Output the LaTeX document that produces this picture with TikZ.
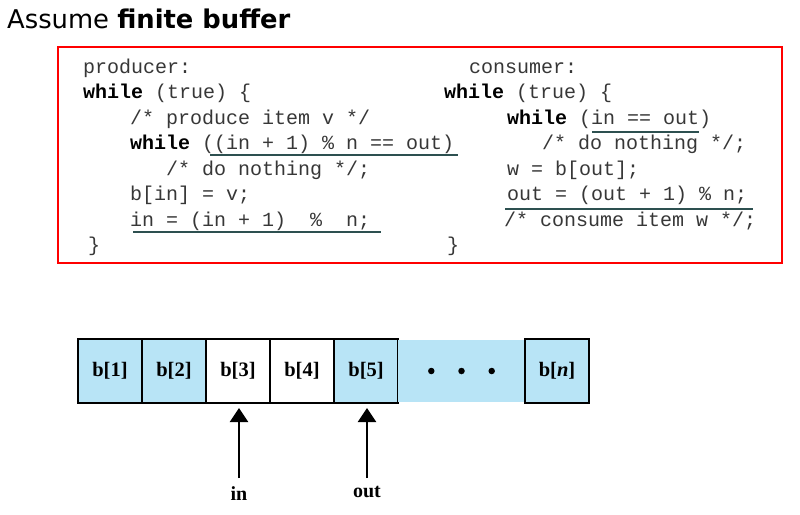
\documentclass[tikz,border=0pt]{standalone}
\usepackage{fontspec}
\setmainfont{Liberation Serif}
\setsansfont{DejaVu Sans}
\setmonofont{Liberation Mono}
\usetikzlibrary{positioning,arrows.meta}
\definecolor{bufblue}{RGB}{184,228,246}
\definecolor{ulinecol}{RGB}{45,80,80}
\definecolor{codegray}{RGB}{55,55,55}
\tikzset{
  code/.style={anchor=base west, inner sep=0pt, text=codegray, font=\ttfamily\fontsize{20}{24}\selectfont},
  cell/.style={draw=black, line width=1.5pt, minimum width=64pt, minimum height=64pt, inner sep=0pt, outer sep=0pt, font=\bfseries\fontsize{20.5}{24}\selectfont},
  ptr/.style={-{Triangle[width=18pt,length=14pt]}, line width=2.5pt},
  ptrlabel/.style={anchor=base, inner sep=0pt, font=\bfseries\fontsize{20}{24}\selectfont},
  uline/.style={draw=ulinecol, line width=2pt},
  dot/.style={circle, fill=black, minimum size=6.5pt, inner sep=0pt}
}
\newcommand{\kw}[1]{\textcolor{black}{\textbf{#1}}}

\begin{document}
\begin{tikzpicture}[x=1pt, y=-1pt]
  \useasboundingbox (0,0) rectangle (800,514);

  \node[anchor=base west, inner sep=0pt, font=\sffamily\fontsize{25.8}{30}\selectfont] (title) at (7,28) {Assume \textbf{finite buffer}};

  % code box
  \draw[red, line width=1.2pt] (58,47) rectangle (782,263);

  % producer
  \node[code] (p1) at (83,73) {producer:};
  \node[code] (p2) at (83,98.5) {\kw{while} (true) \{};
  \node[code] (p3) at (130,124) {/* produce item v */};
  \node[code] (p4) at (130,149.5) {\kw{while} ((in + 1) \% n == out)};
  \node[code] (p5) at (166,175) {/* do nothing */;};
  \node[code] (p6) at (130,200.5) {b[in] = v;};
  \node[code] (p7) at (130,226) {in = (in + 1)\ \ \%\ \ n;};
  \node[code] (p8) at (88,251.5) {\}};

  % consumer
  \node[code] (c1) at (469,73) {consumer:};
  \node[code] (c2) at (444,98.5) {\kw{while} (true) \{};
  \node[code] (c3) at (507,124) {\kw{while} (in == out)};
  \node[code] (c4) at (542,149.5) {/* do nothing */;};
  \node[code] (c5) at (507,175) {w = b[out];};
  \node[code] (c6) at (507,200.5) {out = (out + 1) \% n;};
  \node[code] (c7) at (504,226) {/* consume item w */;};
  \node[code] (c8) at (447,251.5) {\}};

  \draw[uline] (210,155) -- (458,155);
  \draw[uline] (133,232) -- (381,232);
  \draw[uline] (592,132) -- (699,132);
  \draw[uline] (505,209) -- (753,209);

  % buffer
  \node[cell, fill=bufblue] (b1) at (110,371) {b[1]};
  \node[cell, fill=bufblue, right=0pt of b1] (b2) {b[2]};
  \node[cell, right=0pt of b2] (b3) {b[3]};
  \node[cell, right=0pt of b3] (b4) {b[4]};
  \node[cell, fill=bufblue, right=0pt of b4] (b5) {b[5]};
  \node[fill=bufblue, minimum width=127pt, minimum height=62.5pt, inner sep=0pt, outer sep=0pt, right=0pt of b5] (gap) {};
  \node[cell, fill=bufblue, right=0pt of gap] (bn) {b[\textit{n}]};
  \node[dot, left=26.75pt of gap.center] (d1) {};
  \node[dot] (d2) at (gap.center) {};
  \node[dot, right=26.75pt of gap.center] (d3) {};

  % pointers
  \node[ptrlabel] (lin) at (239,500) {in};
  \node[ptrlabel] (lout) at (367,497) {out};
  \coordinate (tin) at (239,478);
  \coordinate (tout) at (367,478);
  \draw[ptr, shorten >=5pt] (tin) -- (tin |- b3.south);
  \draw[ptr, shorten >=5pt] (tout) -- (tout |- b5.south);

\end{tikzpicture}
\end{document}
